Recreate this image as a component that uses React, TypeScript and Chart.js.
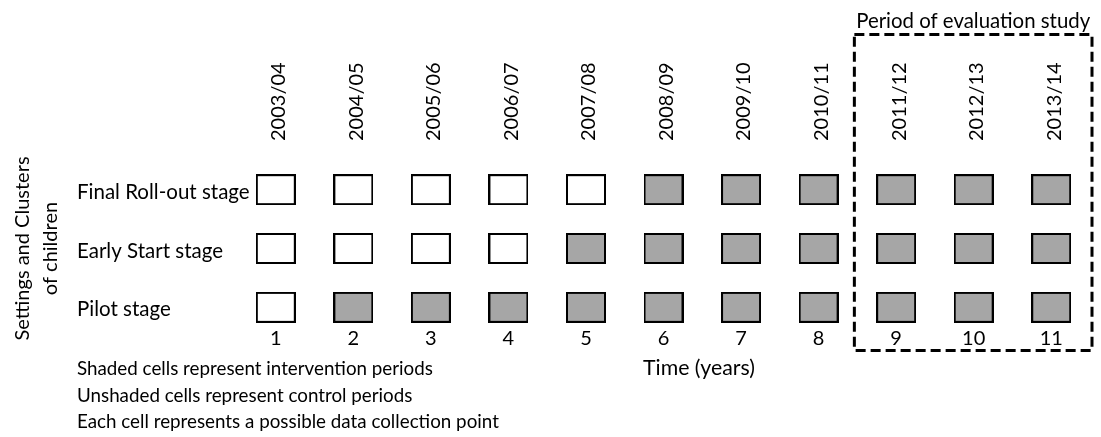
import React, { useEffect, useRef } from 'react';
import { Chart, registerables } from 'chart.js';

Chart.register(...registerables);

const FONT = 'Lato';

const years = ['2003/04', '2004/05', '2005/06', '2006/07', '2007/08', '2008/09', '2009/10', '2010/11', '2011/12', '2012/13', '2013/14'];
const periods = ['1', '2', '3', '4', '5', '6', '7', '8', '9', '10', '11'];
const stageLabels = ['Final Roll-out stage', 'Early Start stage', 'Pilot stage'];
const stageRows = [3, 2, 1];
// 1 = shaded (intervention), 0 = unshaded (control)
const finalRollout = [0, 0, 0, 0, 0, 1, 1, 1, 1, 1, 1];
const earlyStart = [0, 0, 0, 0, 1, 1, 1, 1, 1, 1, 1];
const pilotStage = [0, 1, 1, 1, 1, 1, 1, 1, 1, 1, 1];
const evaluationPeriods = [9, 10, 11];
const yTitle = ['Settings and Clusters', 'of children'];
const xTitle = 'Time (years)';
const evaluationTitle = 'Period of evaluation study';
const notes = [
  'Shaded cells represent intervention periods',
  'Unshaded cells represent control periods',
  'Each cell represents a possible data collection point',
];

function makeCell(shaded: boolean): HTMLCanvasElement {
  const c = document.createElement('canvas');
  c.width = 40;
  c.height = 31;
  const g = c.getContext('2d')!;
  g.fillStyle = shaded ? '#a6a6a6' : '#ffffff';
  g.fillRect(1, 1, 38, 29);
  g.strokeStyle = '#000000';
  g.lineWidth = 2;
  g.strokeRect(1, 1, 38, 29);
  return c;
}

export default function App() {
  const ref = useRef<HTMLCanvasElement | null>(null);

  useEffect(() => {
    if (!ref.current) return;
    const shadedImg = makeCell(true);
    const plainImg = makeCell(false);
    const rows = [finalRollout, earlyStart, pilotStage];

    const annotationPlugin = {
      id: 'annotations',
      afterDraw(chart: any) {
        const { ctx } = chart;
        const xs = chart.scales.x;
        const ys = chart.scales.y;
        ctx.save();
        ctx.fillStyle = '#000';
        ctx.textBaseline = 'alphabetic';
        ctx.textAlign = 'left';
        ctx.font = `20.5px ${FONT}`;
        stageLabels.forEach((lab, r) => {
          ctx.fillText(lab, 77, ys.getPixelForValue(stageRows[r]) + 9);
        });
        ctx.font = `18.8px ${FONT}`;
        notes.forEach((n, i) => ctx.fillText(n, 77, 375 + i * 26.5));
        ctx.textAlign = 'center';
        ctx.font = `21.3px ${FONT}`;
        ctx.fillText(xTitle, 699, 375);
        const left = xs.getPixelForValue(evaluationPeriods[0] - 0.5) - 3;
        const right = xs.getPixelForValue(evaluationPeriods[evaluationPeriods.length - 1] + 0.5) + 2;
        ctx.font = `20.4px ${FONT}`;
        ctx.fillText(evaluationTitle, (left + right) / 2, 28);
        ctx.setLineDash([10, 5]);
        ctx.lineWidth = 3;
        ctx.strokeStyle = '#000';
        ctx.strokeRect(left, 34.5, right - left, 316);
        ctx.restore();
      },
    };

    const chart = new Chart(ref.current, {
      type: 'scatter',
      data: {
        datasets: rows.map((states, r) => ({
          label: stageLabels[r],
          data: states.map((_, i) => ({ x: i + 1, y: stageRows[r] })),
          pointStyle: (c: any) => (c.dataIndex !== undefined && states[c.dataIndex] ? shadedImg : plainImg),
          pointRadius: 10,
          showLine: false,
        })),
      },
      options: {
        responsive: false,
        animation: false,
        events: [],
        layout: { padding: { left: 0, right: 8, top: 0, bottom: 0 } },
        plugins: { legend: { display: false }, tooltip: { enabled: false } },
        scales: {
          x: {
            type: 'linear',
            position: 'top',
            min: 0.5,
            max: 11.5,
            grid: { display: false, drawTicks: false },
            border: { display: false },
            afterBuildTicks: (axis: any) => {
              axis.ticks = years.map((_, i) => ({ value: i + 1 }));
            },
            afterFit: (axis: any) => {
              axis.height = 172;
            },
            ticks: {
              autoSkip: false,
              minRotation: 90,
              maxRotation: 90,
              padding: 31,
              labelOffset: 27,
              color: '#000',
              font: { family: FONT, size: 20 },
              callback: (v: any) => years[Math.round(Number(v)) - 1] ?? '',
            },
          },
          x2: {
            type: 'linear',
            position: 'bottom',
            min: 0.5,
            max: 11.5,
            grid: { display: false, drawTicks: false },
            border: { display: false },
            afterBuildTicks: (axis: any) => {
              axis.ticks = periods.map((_, i) => ({ value: i + 1 }));
            },
            afterFit: (axis: any) => {
              axis.height = 112;
            },
            ticks: {
              autoSkip: false,
              minRotation: 0,
              maxRotation: 0,
              padding: 2,
              color: '#000',
              font: { family: FONT, size: 20 },
              callback: (v: any) => periods[Math.round(Number(v)) - 1] ?? '',
            },
          },
          y: {
            type: 'linear',
            min: 0.7,
            max: 3.3,
            grid: { display: false, drawTicks: false },
            border: { display: false },
            ticks: { display: false },
            afterFit: (axis: any) => {
              axis.width = 237;
            },
            title: {
              display: true,
              text: yTitle,
              color: '#000',
              font: { family: FONT, size: 20, lineHeight: 1.4 },
              padding: { top: 9, bottom: 0 },
            },
          },
        },
      },
      plugins: [annotationPlugin],
    });
    return () => chart.destroy();
  }, []);

  return (
    <div style={{ position: 'fixed', left: 0, top: 0, width: 1101, height: 437, background: '#fff' }}>
      <canvas ref={ref} width={1101} height={437} style={{ display: 'block' }} />
    </div>
  );
}
